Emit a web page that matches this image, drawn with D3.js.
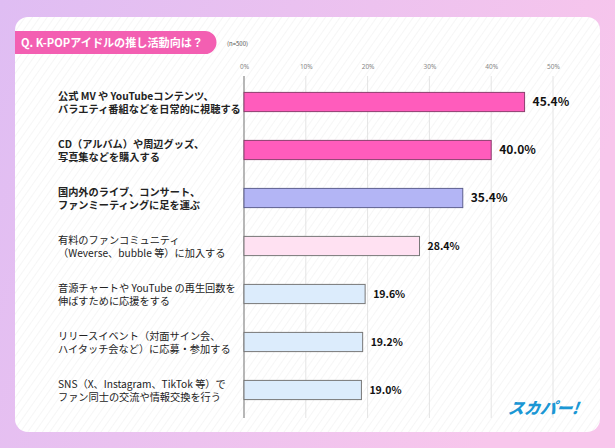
<!DOCTYPE html>
<html lang="ja">
<head>
<meta charset="UTF-8">
<title>K-POP推し活動</title>
<script src="https://d3js.org/d3.v7.min.js"></script>
<style>
  html, body { margin: 0; padding: 0; }
  svg { display: block; font-family: "Noto Sans CJK JP", "Noto Sans", sans-serif; }
</style>
</head>
<body>
<svg width="615" height="448"></svg>
<script>
// data
const categories = [
  "公式 MV や YouTubeコンテンツ、\nバラエティ番組などを日常的に視聴する",
  "CD（アルバム）や周辺グッズ、\n写真集などを購入する",
  "国内外のライブ、コンサート、\nファンミーティングに足を運ぶ",
  "有料のファンコミュニティ\n（Weverse、bubble 等）に加入する",
  "音源チャートや YouTube の再生回数を\n伸ばすために応援をする",
  "リリースイベント（対面サイン会、\nハイタッチ会など）に応募・参加する",
  "SNS（X、Instagram、TikTok 等）で\nファン同士の交流や情報交換を行う"
];
const values = [45.4, 40.0, 35.4, 28.4, 19.6, 19.2, 19.0];
const ticks = [0, 10, 20, 30, 40, 50];
const barColors = ["#ff5cbc", "#ff5cbc", "#b3b5f5", "#ffe1f2", "#dcecfc", "#dcecfc", "#dcecfc"];
const barStrokes = ["#8c3f6e", "#8c3f6e", "#5c5f8e", "#777", "#777", "#777", "#777"];

const W = 615, H = 448;
const svg = d3.select("svg");
const defs = svg.append("defs");

const bg = defs.append("linearGradient").attr("id", "bg")
  .attr("x1", "0%").attr("y1", "0%").attr("x2", "100%").attr("y2", "30%");
bg.append("stop").attr("offset", "0%").attr("stop-color", "#dfbdf3");
bg.append("stop").attr("offset", "100%").attr("stop-color", "#f8c6ec");

const pat = defs.append("pattern").attr("id", "hatch")
  .attr("width", 6).attr("height", 6)
  .attr("patternUnits", "userSpaceOnUse")
  .attr("patternTransform", "rotate(35)");
pat.append("rect").attr("width", 6).attr("height", 6).attr("fill", "#ffffff");
pat.append("line").attr("x1", 0).attr("y1", 0).attr("x2", 0).attr("y2", 6)
  .attr("stroke", "#f1f1f1").attr("stroke-width", 1.2);

svg.append("rect").attr("width", W).attr("height", H).attr("fill", "url(#bg)");
svg.append("rect").attr("x", 15).attr("y", 17).attr("width", 585).attr("height", 415)
  .attr("rx", 13).attr("fill", "url(#hatch)");

// title pill
svg.append("path")
  .attr("d", "M15,31 H205 A11.5,11.5 0 0 1 205,54 H15 Z")
  .attr("fill", "#f35fb2");
svg.append("text").attr("x", 21).attr("y", 47)
  .attr("fill", "#fff").attr("font-size", 11.5).attr("font-weight", 700)
  .attr("textLength", 182).attr("lengthAdjust", "spacingAndGlyphs")
  .text("Q. K-POPアイドルの推し活動向は？");
svg.append("text").attr("x", 227).attr("y", 46)
  .attr("fill", "#555").attr("font-size", 6).text("(n=500)");

// scales
const x = d3.scaleLinear().domain([0, 50]).range([244, 553]);
const y = d3.scaleBand().domain(d3.range(categories.length))
  .range([78, 414]).paddingInner(0.6).paddingOuter(0.3);

// grid
const grid = svg.append("g");
grid.selectAll("line").data(ticks.slice(1)).join("line")
  .attr("x1", d => x(d)).attr("x2", d => x(d))
  .attr("y1", 76).attr("y2", 418)
  .attr("stroke", "#e4e4e4").attr("stroke-width", 1);

const axis = svg.append("g").attr("transform", "translate(0,72)")
  .call(d3.axisTop(x).tickValues(ticks).tickFormat(d => d + "%").tickSize(0));
axis.select(".domain").remove();
axis.selectAll("text").attr("fill", "#888").attr("font-size", 6.5)
  .attr("font-family", "Noto Sans, sans-serif");

svg.append("line").attr("x1", x(0)).attr("x2", x(0)).attr("y1", 76).attr("y2", 418)
  .attr("stroke", "#888").attr("stroke-width", 1.2);

// bars
svg.append("g").selectAll("rect").data(values).join("rect")
  .attr("x", x(0))
  .attr("y", (d, i) => y(i))
  .attr("width", d => x(d) - x(0))
  .attr("height", y.bandwidth())
  .attr("fill", (d, i) => barColors[i])
  .attr("stroke", (d, i) => barStrokes[i])
  .attr("stroke-width", 1);

// value labels
svg.append("g").selectAll("text").data(values).join("text")
  .attr("x", d => x(d) + 8)
  .attr("y", (d, i) => y(i) + y.bandwidth() / 2)
  .attr("dy", "0.36em")
  .attr("font-size", (d, i) => i < 3 ? 12 : 10.5)
  .attr("font-weight", 700)
  .attr("fill", "#111")
  .text(d => d.toFixed(1) + "%");

// category labels
const lab = svg.append("g").selectAll("text").data(categories).join("text")
  .attr("x", 58)
  .attr("y", (d, i) => y(i) + y.bandwidth() / 2)
  .attr("font-size", 10.2)
  .attr("font-weight", (d, i) => i < 3 ? 700 : 400)
  .attr("fill", "#222");
lab.selectAll("tspan").data(d => d.split("\n")).join("tspan")
  .attr("x", 58)
  .attr("dy", (d, j) => j === 0 ? -2.5 : 13.5)
  .text(d => d);

// logo
svg.append("text").attr("x", 578).attr("y", 414)
  .attr("text-anchor", "end")
  .attr("font-size", 16).attr("font-weight", 900)
  .attr("font-style", "italic")
  .attr("fill", "#1b97d4")
  .attr("transform", "skewX(-8) translate(58,0)")
  .text("スカパー!");
</script>
</body>
</html>
